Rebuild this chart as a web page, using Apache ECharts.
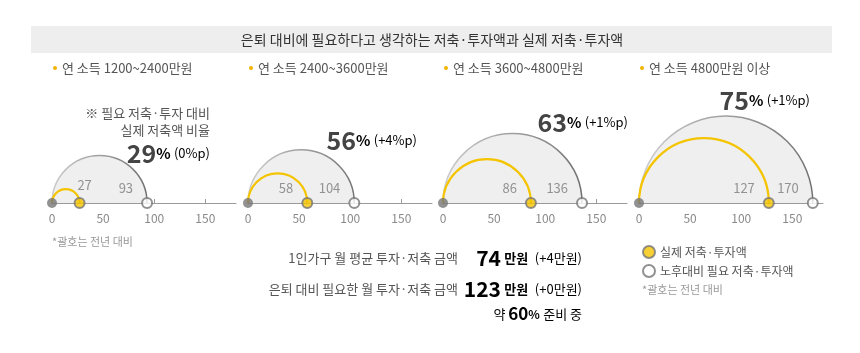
<!DOCTYPE html>
<html>
<head>
<meta charset="utf-8">
<script src="https://cdn.jsdelivr.net/npm/echarts@6/dist/echarts.min.js"></script>
<style>
  html, body { margin: 0; padding: 0; background: #fff; }
  #chart { width: 860px; height: 353px; }
</style>
</head>
<body>
<div id="chart"></div>
<script>
// 소득 구간별 데이터 (만원)
const incomeGroups = ['연 소득 1200~2400만원', '연 소득 2400~3600만원', '연 소득 3600~4800만원', '연 소득 4800만원 이상'];
const actualSaving = [27, 58, 86, 127];
const requiredSaving = [93, 104, 136, 170];
const ratioPct = [29, 56, 63, 75];
const ratioChange = ['0%p', '+4%p', '+1%p', '+1%p'];
const xTicks = [0, 50, 100, 150];

// 하단 요약
const summaryLabels = ['1인가구 월 평균 투자·저축 금액', '은퇴 대비 필요한 월 투자·저축 금액'];
const summaryValues = [74, 123];
const summaryChanges = ['+4', '+0'];
const readyPct = 60;

const FONT = '"Noto Sans CJK KR", "Noto Sans", sans-serif';
const gridLeft = [52, 248, 443, 639];
const ratioPos = [[210, 153], [417, 140], [628, 122], [810, 100]];
const YELLOW = '#f5c400';
const DARK = '#757575';

var chart = echarts.init(document.getElementById('chart'));

var grids = [], xAxes = [], yAxes = [], series = [], graphics = [];

// 제목 바
graphics.push({ type: 'rect', shape: { x: 31, y: 26, width: 801, height: 27 }, style: { fill: '#eeeeee' }, z: 0 });
graphics.push({ type: 'text', style: { text: '은퇴 대비에 필요하다고 생각하는 저축·투자액과 실제 저축·투자액', x: 432, y: 40, align: 'center', verticalAlign: 'middle', font: '14px ' + FONT, fill: '#333' }, z: 1 });

incomeGroups.forEach(function (name, i) {
  grids.push({ left: gridLeft[i], width: 184, top: 100, bottom: 150 });
  xAxes.push({
    type: 'value', gridIndex: i, min: 0, max: 180, interval: 50,
    axisLine: { lineStyle: { color: '#9a9a9a', width: 1 } },
    axisTick: { show: true, inside: true, length: 4, customValues: xTicks, lineStyle: { color: '#9a9a9a' } },
    axisLabel: { customValues: xTicks, color: '#8a8a8a', fontSize: 12, fontFamily: FONT, margin: 9 },
    splitLine: { show: false }
  });
  yAxes.push({ type: 'value', gridIndex: i, min: 0, max: 1, show: false });

  // 필요 저축액 반원
  series.push({
    type: 'custom', xAxisIndex: i, yAxisIndex: i, clip: false, silent: true, z: 1,
    encode: { x: 0, y: 1 },
    data: [[requiredSaving[i], 0]],
    renderItem: function (params, api) {
      var r = api.value(0) / 2;
      var c = api.coord([r, 0]);
      var rp = api.size([r, 0])[0];
      return {
        type: 'group', children: [
          { type: 'sector', shape: { cx: c[0], cy: c[1], r: rp, r0: 0, startAngle: Math.PI, endAngle: 2 * Math.PI, clockwise: true }, style: { fill: '#efefef' } },
          { type: 'arc', shape: { cx: c[0], cy: c[1], r: rp, startAngle: Math.PI, endAngle: 2 * Math.PI, clockwise: true },
            style: { fill: null, lineWidth: 1.5, stroke: new echarts.graphic.LinearGradient(0, 0, 1, 0, [{ offset: 0, color: '#cfcfcf' }, { offset: 1, color: '#707070' }]) } }
        ]
      };
    }
  });
  // 실제 저축액 반원
  series.push({
    type: 'custom', xAxisIndex: i, yAxisIndex: i, clip: false, silent: true, z: 2,
    encode: { x: 0, y: 1 },
    data: [[actualSaving[i], 0]],
    renderItem: function (params, api) {
      var r = api.value(0) / 2;
      var c = api.coord([r, 0]);
      var rp = api.size([r, 0])[0];
      return { type: 'arc', shape: { cx: c[0], cy: c[1], r: rp, startAngle: Math.PI, endAngle: 2 * Math.PI, clockwise: true }, style: { fill: null, stroke: YELLOW, lineWidth: 2.2 } };
    }
  });
  // 원점
  series.push({
    type: 'scatter', xAxisIndex: i, yAxisIndex: i, z: 3, silent: true,
    symbolSize: 10, itemStyle: { color: DARK },
    data: [[0, 0]]
  });
  var lbl = { show: true, position: 'left', distance: 8, offset: [0, -15], color: '#7a7a7a', fontSize: 13, fontFamily: FONT, formatter: function (p) { return p.value[0]; } };
  // 실제
  series.push({
    name: '실제 저축·투자액', type: 'scatter', xAxisIndex: i, yAxisIndex: i, z: 4, silent: true,
    symbolSize: 10, itemStyle: { color: YELLOW, borderColor: DARK, borderWidth: 2 },
    label: i === 0 ? Object.assign({}, lbl, { position: 'top', distance: 5, offset: [5, 0] }) : lbl,
    data: [[actualSaving[i], 0]]
  });
  // 필요
  series.push({
    name: '노후대비 필요 저축·투자액', type: 'scatter', xAxisIndex: i, yAxisIndex: i, z: 4, silent: true,
    symbolSize: 10, itemStyle: { color: '#fff', borderColor: DARK, borderWidth: 2 },
    label: lbl,
    data: [[requiredSaving[i], 0]]
  });

  // 소제목
  graphics.push({ type: 'circle', shape: { cx: gridLeft[i] + 3, cy: 68, r: 2 }, style: { fill: '#f0b400' } });
  graphics.push({ type: 'text', style: { text: name, x: gridLeft[i] + 10, y: 68, verticalAlign: 'middle', font: '13px ' + FONT, fill: '#555' } });

  // 비율
  graphics.push({
    type: 'text',
    style: {
      text: '{n|' + ratioPct[i] + '}{p|%} {c|(' + ratioChange[i] + ')}',
      x: ratioPos[i][0], y: ratioPos[i][1], align: 'right', verticalAlign: 'middle',
      rich: {
        n: { fontSize: 25, fontWeight: 'bold', fontFamily: FONT, fill: '#444', color: '#444' },
        p: { fontSize: 15, fontWeight: 'bold', fontFamily: FONT, color: '#444' },
        c: { fontSize: 13, fontFamily: FONT, color: '#555' }
      }
    }
  });
});

// 첫 패널 설명
graphics.push({ type: 'text', style: { text: '※ 필요 저축·투자 대비', x: 210, y: 113, align: 'right', verticalAlign: 'middle', font: '13px ' + FONT, fill: '#555' } });
graphics.push({ type: 'text', style: { text: '실제 저축액 비율', x: 210, y: 130, align: 'right', verticalAlign: 'middle', font: '13px ' + FONT, fill: '#555' } });

// 각주
graphics.push({ type: 'text', style: { text: '*괄호는 전년 대비', x: 52, y: 242, verticalAlign: 'middle', font: '11px ' + FONT, fill: '#999' } });
graphics.push({ type: 'text', style: { text: '*괄호는 전년 대비', x: 642, y: 290, verticalAlign: 'middle', font: '11px ' + FONT, fill: '#999' } });

// 하단 요약
var richSum = {
  n: { fontSize: 21, fontWeight: 'bold', fontFamily: FONT, color: '#444' },
  u: { fontSize: 13, fontWeight: 'bold', fontFamily: FONT, color: '#444' },
  c: { fontSize: 13, fontFamily: FONT, color: '#555' }
};
summaryLabels.forEach(function (t, k) {
  var y = 258 + k * 31;
  graphics.push({ type: 'text', style: { text: t, x: 458, y: y, align: 'right', verticalAlign: 'middle', font: '13px ' + FONT, fill: '#555' } });
  graphics.push({ type: 'text', style: { text: '{n|' + summaryValues[k] + '} {u|만원}  {c|(' + summaryChanges[k] + '만원)}', x: 582, y: y, align: 'right', verticalAlign: 'middle', rich: richSum } });
});
graphics.push({ type: 'text', style: { text: '{c|약 }{n|' + readyPct + '}{u|%} {c|준비 중}', x: 582, y: 314, align: 'right', verticalAlign: 'middle',
  rich: { n: { fontSize: 17, fontWeight: 'bold', fontFamily: FONT, color: '#444' }, u: { fontSize: 12, fontWeight: 'bold', fontFamily: FONT, color: '#444' }, c: { fontSize: 13, fontFamily: FONT, color: '#444' } } } });

var option = {
  animation: false,
  textStyle: { fontFamily: FONT },
  grid: grids,
  xAxis: xAxes,
  yAxis: yAxes,
  legend: {
    orient: 'vertical', left: 637, top: 240, itemGap: 5,
    icon: 'circle', itemWidth: 12, itemHeight: 12,
    data: ['실제 저축·투자액', '노후대비 필요 저축·투자액'],
    textStyle: { fontSize: 12, color: '#555', fontFamily: FONT },
    selectedMode: false
  },
  graphic: graphics,
  series: series
};
chart.setOption(option);
</script>
</body>
</html>
